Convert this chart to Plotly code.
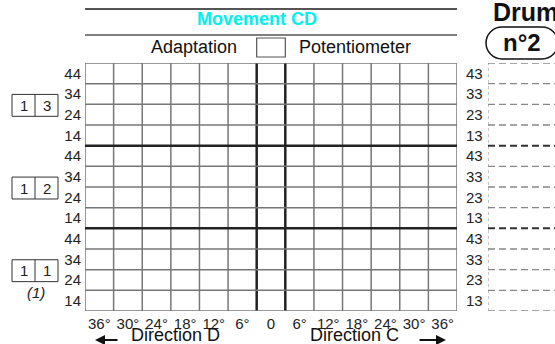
import plotly.graph_objects as go

W, H = 555, 344

# column labels (left to right), row labels (bottom to top, per group)
ANGLES = ["36°", "30°", "24°", "18°", "12°", "6°", "0", "6°", "12°", "18°", "24°", "30°", "36°"]
LEFT_ROWS = ["14", "24", "34", "44"]
RIGHT_ROWS = ["13", "23", "33", "43"]
GROUPS = [("1", "1"), ("1", "2"), ("1", "3")]  # bottom to top

FONT = "Liberation Sans, Arial, sans-serif"
THIN = "#777777"
THICK = "#222222"


def px(x):
    return x / W


def py(y):
    return 1 - y / H


n_cols = len(ANGLES)
n_rows = len(LEFT_ROWS) * len(GROUPS)
half = n_cols / 2
x_pos = [i - (n_cols - 1) / 2 for i in range(n_cols)]
y_pos = [j + 0.5 for j in range(n_rows)]

fig = go.Figure()
# invisible traces to hold the axes
fig.add_trace(go.Scatter(x=[x_pos[0], x_pos[-1]], y=[0, n_rows], mode="markers",
                         marker=dict(opacity=0), hoverinfo="skip", showlegend=False))
fig.add_trace(go.Scatter(x=[x_pos[0]], y=[0], yaxis="y2", mode="markers",
                         marker=dict(opacity=0), hoverinfo="skip", showlegend=False))

shapes = []
# vertical grid lines
for i in range(n_cols + 1):
    xv = i - half
    heavy = i in (n_cols // 2, n_cols // 2 + 1)
    shapes.append(dict(type="line", xref="x", yref="y", x0=xv, x1=xv, y0=0, y1=n_rows,
                       line=dict(color=THICK if heavy else THIN, width=2.5 if heavy else 1.5)))
# horizontal grid lines
for j in range(n_rows + 1):
    heavy = j % len(LEFT_ROWS) == 0 and 0 < j < n_rows
    shapes.append(dict(type="line", xref="x", yref="y", x0=-half, x1=half, y0=j, y1=j,
                       line=dict(color=THICK if heavy else THIN, width=2.5 if heavy else 1.5)))
# dashed boxes on the right
shapes.append(dict(type="line", xref="x2", yref="y", x0=0, x1=0, y0=0, y1=n_rows,
                   line=dict(color="#888888", width=1, dash="3px,3px")))
for j in range(n_rows + 1):
    heavy = j % len(LEFT_ROWS) == 0 and 0 < j < n_rows
    shapes.append(dict(type="line", xref="x2", yref="y", x0=0, x1=1, y0=j, y1=j,
                       line=dict(color="#333333" if heavy else "#888888",
                                 width=2 if heavy else 1.3, dash="7px,4px")))

# header lines and box
shapes.append(dict(type="line", xref="x", yref="paper", x0=-half, x1=half, y0=py(9), y1=py(9),
                   line=dict(color="#555555", width=2)))
shapes.append(dict(type="line", xref="x", yref="paper", x0=-half, x1=half, y0=py(35), y1=py(35),
                   line=dict(color="#555555", width=1.5)))
shapes.append(dict(type="rect", xref="x", yref="paper", x0=-0.5, x1=0.5, y0=py(57), y1=py(38),
                   line=dict(color="#555555", width=1.2)))

# rounded "n°2" box
k = 0.552 * 16
pts = [("M", [(502, 27)]),
       ("C", [(502 - k, 27), (486, 43 - k), (486, 43)]),
       ("C", [(486, 43 + k), (502 - k, 59), (502, 59)]),
       ("L", [(542, 59)]),
       ("C", [(542 + k, 59), (558, 43 + k), (558, 43)]),
       ("C", [(558, 43 - k), (542 + k, 27), (542, 27)])]
path = " ".join(c + " " + " ".join(f"{px(a):.5f},{py(b):.5f}" for a, b in p) for c, p in pts) + " Z"
shapes.append(dict(type="path", xref="paper", yref="paper", path=path,
                   line=dict(color="#111111", width=1.5)))

annotations = []
# group boxes on the left
for g, (a, b) in enumerate(GROUPS):
    yc = g * len(LEFT_ROWS) + len(LEFT_ROWS) / 2 - 0.05
    shapes.append(dict(type="rect", xref="paper", yref="y", x0=px(12), x1=px(58),
                       y0=yc - 0.53, y1=yc + 0.53, line=dict(color="#333333", width=1)))
    shapes.append(dict(type="line", xref="paper", yref="y", x0=px(35), x1=px(35),
                       y0=yc - 0.53, y1=yc + 0.53, line=dict(color="#333333", width=1)))
    for xc, t in ((23.5, a), (46.5, b)):
        annotations.append(dict(x=px(xc), y=yc, xref="paper", yref="y", text=t,
                                font=dict(size=15, color="#222222")))

annotations += [
    dict(x=px(36), y=py(292), text="<i>(1)</i>", font=dict(size=15, color="#222222")),
    dict(x=px(257), y=py(19), text="<b>Movement CD</b>", font=dict(size=18, color="#00f0f0")),
    dict(x=px(194), y=py(47), text="Adaptation", font=dict(size=18, color="#111111")),
    dict(x=px(355), y=py(47), text="Potentiometer", font=dict(size=18, color="#111111")),
    dict(x=px(525), y=py(12), text="<b>Drum</b>", font=dict(size=25, color="#111111")),
    dict(x=px(522), y=py(42), text="<b>n°2</b>", font=dict(size=24, color="#111111")),
    dict(x=px(175), y=py(335), text="Direction D", font=dict(size=18, color="#111111")),
    dict(x=px(354), y=py(335), text="Direction C", font=dict(size=18, color="#111111")),
]
for a in annotations:
    a.update(showarrow=False, xanchor="center", yanchor="middle")
    a.setdefault("xref", "paper")
    a.setdefault("yref", "paper")

# arrows
annotations.append(dict(x=px(95), y=py(340), ax=24, ay=0, xref="paper", yref="paper", text="",
                        showarrow=True, arrowhead=2, arrowsize=1, arrowwidth=2, arrowcolor="#111111"))
annotations.append(dict(x=px(446), y=py(340), ax=-28, ay=0, xref="paper", yref="paper", text="",
                        showarrow=True, arrowhead=2, arrowsize=1, arrowwidth=2, arrowcolor="#111111"))

fig.update_layout(
    width=W, height=H,
    margin=dict(l=0, r=0, t=0, b=0),
    paper_bgcolor="white", plot_bgcolor="white",
    font=dict(family=FONT, size=15, color="#222222"),
    showlegend=False,
    xaxis=dict(domain=[px(85), px(457)], range=[-half, half], tickvals=x_pos, ticktext=ANGLES,
               showgrid=False, zeroline=False, showline=False, ticks="", ticklabelstandoff=2,
               tickfont=dict(size=15)),
    xaxis2=dict(domain=[px(488), 1], range=[0, 1], anchor="y", visible=False),
    yaxis=dict(domain=[py(311), py(63)], range=[0, n_rows], tickvals=y_pos,
               ticktext=LEFT_ROWS * len(GROUPS), showgrid=False, zeroline=False, showline=False,
               ticks="", ticklabelstandoff=3, tickfont=dict(size=15)),
    yaxis2=dict(overlaying="y", side="right", range=[0, n_rows], tickvals=y_pos,
                ticktext=RIGHT_ROWS * len(GROUPS), showgrid=False, zeroline=False, showline=False,
                ticks="", ticklabelstandoff=8, tickfont=dict(size=15)),
    shapes=shapes,
    annotations=annotations,
)

# drop the browser's default body margin so the figure sits at the page corner
fig.write_html("out.html", config={"displayModeBar": False},
               post_script="document.body.style.margin='0px';")
